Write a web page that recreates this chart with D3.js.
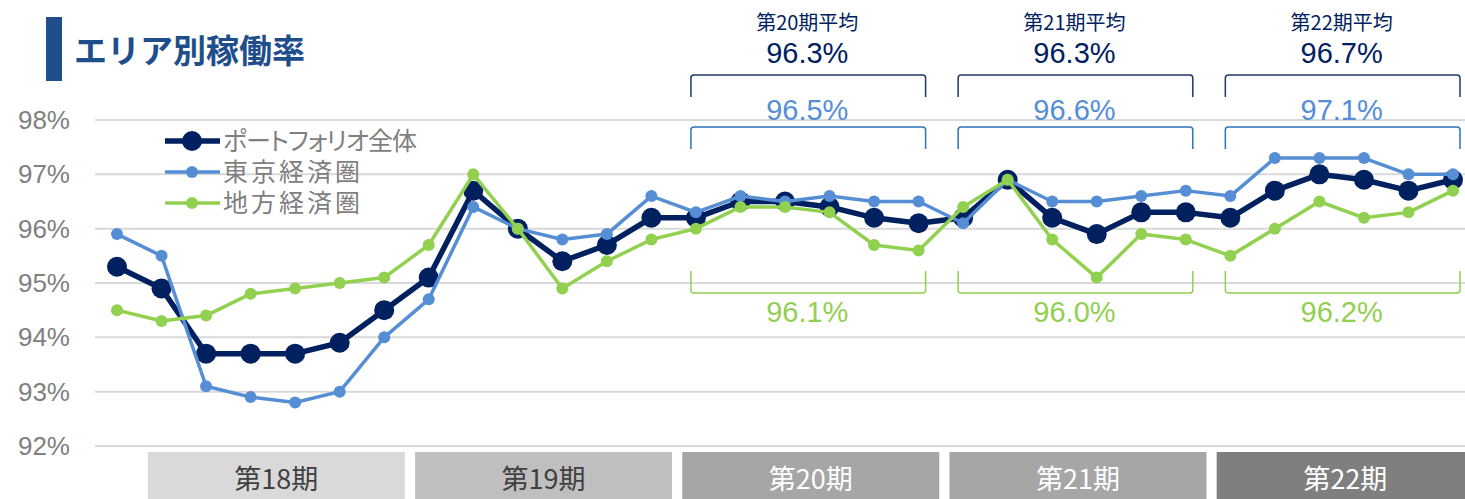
<!DOCTYPE html>
<html>
<head>
<meta charset="utf-8">
<script src="https://cdnjs.cloudflare.com/ajax/libs/d3/7.8.5/d3.min.js"></script>
<style>
    html, body { margin: 0; padding: 0; background: #fff; }
    svg { display: block; }
    text { font-family: "Liberation Sans", Arial, "Noto Sans CJK JP", sans-serif; }
    .jp { font-family: "Noto Sans CJK JP", sans-serif; }
    .palt { font-feature-settings: "palt"; }
</style>
</head>
<body>
<svg id="chart" width="1465" height="499"></svg>
<script>
// Monthly occupancy (%), first point = last month of 第17期
const portfolio = [95.3, 94.9, 93.7, 93.7, 93.7, 93.9, 94.5, 95.1, 96.7, 96.0, 95.4, 95.7, 96.2,
    96.2, 96.5, 96.5, 96.4, 96.2, 96.1, 96.2, 96.9, 96.2, 95.9, 96.3, 96.3,
    96.2, 96.7, 97.0, 96.9, 96.7, 96.9];
const tokyo = [95.9, 95.5, 93.1, 92.9, 92.8, 93.0, 94.0, 94.7, 96.4, 96.0, 95.8, 95.9, 96.6,
    96.3, 96.6, 96.5, 96.6, 96.5, 96.5, 96.1, 96.9, 96.5, 96.5, 96.6, 96.7,
    96.6, 97.3, 97.3, 97.3, 97.0, 97.0];
const regional = [94.5, 94.3, 94.4, 94.8, 94.9, 95.0, 95.1, 95.7, 97.0, 96.0, 94.9, 95.4, 95.8,
    96.0, 96.4, 96.4, 96.3, 95.7, 95.6, 96.4, 96.9, 95.8, 95.1, 95.9, 95.8,
    95.5, 96.0, 96.5, 96.2, 96.3, 96.7];

const periods = ['第18期', '第19期', '第20期', '第21期', '第22期'];
const periodStart = [1, 7, 13, 19, 25];   // index of first month in each period
const periodFill = ['#d9d9d9', '#bfbfbf', '#a6a6a6', '#a6a6a6', '#7f7f7f'];
const periodText = ['#404040', '#404040', '#ffffff', '#ffffff', '#ffffff'];

const avgPeriods = ['第20期平均', '第21期平均', '第22期平均'];
const avgStart = [13, 19, 25];
const avgPortfolio = ['96.3%', '96.3%', '96.7%'];
const avgTokyo = ['96.5%', '96.6%', '97.1%'];
const avgRegional = ['96.1%', '96.0%', '96.2%'];

const yTicks = [92, 93, 94, 95, 96, 97, 98];

const seriesNames = ['ポートフォリオ全体', '東京経済圏', '地方経済圏'];

const NAVY = '#002060', BLUE = '#558ed5', GREEN = '#92d050';

const svg = d3.select('#chart');
const idx = d3.range(portfolio.length);

const x = d3.scalePoint().domain(idx).range([117, 1453]);
const y = d3.scaleLinear().domain([92, 98]).range([446, 120]);

// Title
svg.append('rect').attr('x', 46).attr('y', 17).attr('width', 16).attr('height', 64).attr('fill', '#1f4e8c');
svg.append('text').attr('class', 'jp').attr('x', 74).attr('y', 63)
    .attr('font-size', 33).attr('font-weight', 'bold').attr('fill', '#1f4e8c')
    .text('エリア別稼働率');

// Grid + y labels
svg.append('g').selectAll('line').data(yTicks).enter().append('line')
    .attr('x1', 95).attr('x2', 1465)
    .attr('y1', d => y(d)).attr('y2', d => y(d))
    .attr('stroke', '#d9d9d9').attr('stroke-width', 2);
svg.append('g').selectAll('text').data(yTicks).enter().append('text')
    .attr('x', 70).attr('y', d => y(d) + 9)
    .attr('text-anchor', 'end').attr('font-size', 26).attr('fill', '#808080')
    .text(d => d + '%');

// Period bands
const bands = svg.append('g');
periods.forEach((p, i) => {
    const cx = (x(periodStart[i]) + x(periodStart[i] + 5)) / 2 + 3.5;
    bands.append('rect').attr('x', cx - 128.5).attr('y', 452).attr('width', 257).attr('height', 50)
        .attr('fill', periodFill[i]);
    bands.append('text').attr('class', 'jp').attr('x', cx).attr('y', 489)
        .attr('text-anchor', 'middle').attr('font-size', 27).attr('fill', periodText[i])
        .text(p);
});

// Average annotations with brackets
function bracket(g, x0, x1, yEdge, yEnd, color) {
    const r = 3, dir = yEnd > yEdge ? 1 : -1;
    g.append('path')
        .attr('d', `M${x0},${yEnd} L${x0},${yEdge + dir * r} Q${x0},${yEdge} ${x0 + r},${yEdge}
                    L${x1 - r},${yEdge} Q${x1},${yEdge} ${x1},${yEdge + dir * r} L${x1},${yEnd}`)
        .attr('fill', 'none').attr('stroke', color).attr('stroke-width', 1.5);
}
const ann = svg.append('g');
avgPeriods.forEach((p, i) => {
    const x0 = x(avgStart[i]) - 5, x1 = x(avgStart[i] + 5) + 7;
    const cx = (x(avgStart[i]) + x(avgStart[i] + 5)) / 2;
    ann.append('text').attr('class', 'jp').attr('x', cx).attr('y', 30)
        .attr('text-anchor', 'middle').attr('font-size', 20).attr('fill', NAVY).text(p);
    ann.append('text').attr('x', cx).attr('y', 63)
        .attr('text-anchor', 'middle').attr('font-size', 29).attr('fill', NAVY).text(avgPortfolio[i]);
    bracket(ann, x0, x1, 75, 97, '#1f3864');
    ann.append('text').attr('x', cx).attr('y', 120)
        .attr('text-anchor', 'middle').attr('font-size', 29).attr('fill', BLUE).text(avgTokyo[i]);
    bracket(ann, x0, x1, 127, 149, '#2e75b6');
    bracket(ann, x0, x1, 293, 271, GREEN);
    ann.append('text').attr('x', cx).attr('y', 322)
        .attr('text-anchor', 'middle').attr('font-size', 29).attr('fill', GREEN).text(avgRegional[i]);
});

// Lines
const line = d3.line().x((d, i) => x(i)).y(d => y(d));
const series = [
    { values: portfolio, color: NAVY, width: 5.5, r: 10 },
    { values: tokyo, color: BLUE, width: 3.5, r: 6 },
    { values: regional, color: GREEN, width: 3.5, r: 6 }
];
series.forEach(s => {
    const g = svg.append('g');
    g.append('path').attr('d', line(s.values))
        .attr('fill', 'none').attr('stroke', s.color).attr('stroke-width', s.width)
        .attr('stroke-linejoin', 'round');
    g.selectAll('circle').data(s.values).enter().append('circle')
        .attr('cx', (d, i) => x(i)).attr('cy', d => y(d)).attr('r', s.r)
        .attr('fill', s.color);
});

// Legend
const legendY = [141, 172, 203];
const legendSpacing = [-1, 3, 3];
const legend = svg.append('g');
series.forEach((s, i) => {
    legend.append('line').attr('x1', 165).attr('x2', 220)
        .attr('y1', legendY[i]).attr('y2', legendY[i])
        .attr('stroke', s.color).attr('stroke-width', s.width);
    legend.append('circle').attr('cx', 192).attr('cy', legendY[i]).attr('r', s.r).attr('fill', s.color);
    legend.append('text').attr('class', 'jp palt').attr('x', 223).attr('y', legendY[i] + 9)
        .attr('font-size', 25).attr('letter-spacing', legendSpacing[i])
        .attr('fill', '#7f7f7f').text(seriesNames[i]);
});
</script>
</body>
</html>
